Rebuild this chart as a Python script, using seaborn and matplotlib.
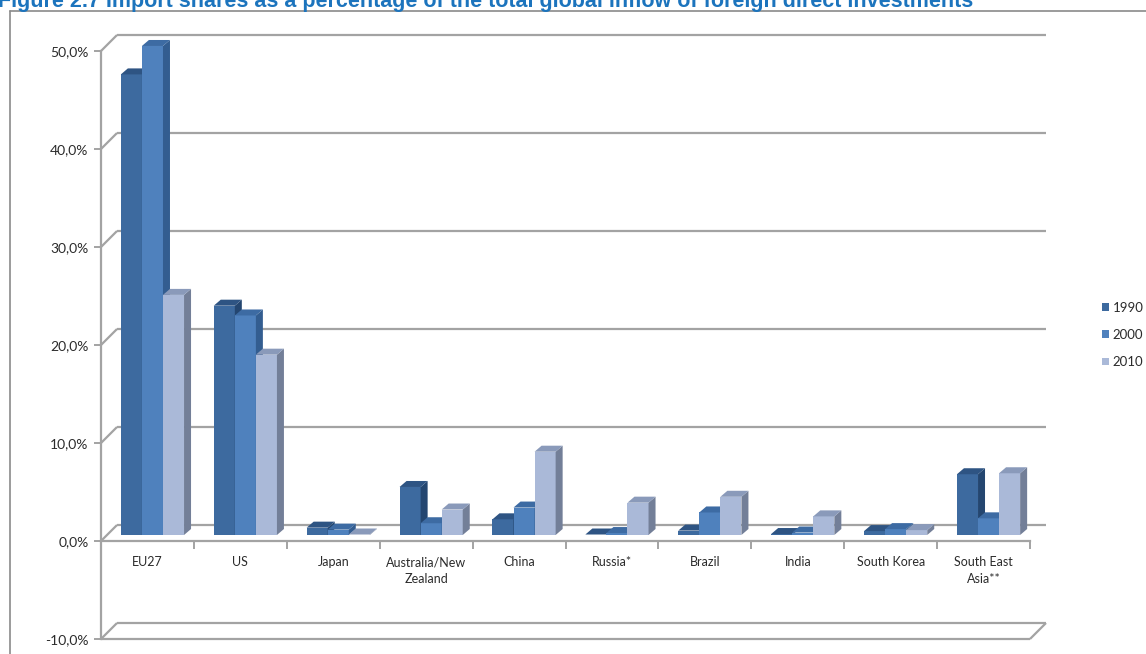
import numpy as np
import pandas as pd
import matplotlib
matplotlib.use("Agg")
import matplotlib.pyplot as plt
from matplotlib.patches import Polygon
from matplotlib.lines import Line2D
import seaborn as sns

# ---- data -------------------------------------------------------------
regions = ["EU27", "US", "Japan", "Australia/New\nZealand", "China", "Russia*",
           "Brazil", "India", "South Korea", "South East\nAsia**"]
years = ["1990", "2000", "2010"]
share_1990 = [47.0, 23.4, 0.75, 4.9, 1.6, 0.05, 0.45, 0.1, 0.4, 6.2]
share_2000 = [49.9, 22.4, 0.55, 1.2, 2.8, 0.2, 2.3, 0.25, 0.6, 1.7]
share_2010 = [24.5, 18.4, 0.05, 2.6, 8.5, 3.3, 3.9, 1.9, 0.5, 6.3]
y_ticks = [-10, 0, 10, 20, 30, 40, 50]
title = ("Figure 2.7 Import shares as a percentage of the total global inflow "
         "of foreign direct investments")

# ---- style ------------------------------------------------------------
front_colors = ["#3d6a9f", "#4f81bd", "#aab9d8"]
top_colors = ["#2e5483", "#3d6ba3", "#8a9aba"]
side_colors = ["#244670", "#335d90", "#737f98"]
grid_color = "#a3a3a3"
text_color = "#2b2b2b"

sns.set_theme(style="white")
plt.rcParams["font.family"] = ["Lato", "DejaVu Sans"]

W, H = 1146, 654
fig = plt.figure(figsize=(W / 100, H / 100), dpi=100)
fig.patch.set_facecolor("white")

# front plane of the 3-D box, in pixels
x_left, x_right = 101, 1030
y_hi, y_lo = 51, 639  # rows of 50 % and -10 %
ax = fig.add_axes([x_left / W, 1 - y_lo / H, (x_right - x_left) / W, (y_lo - y_hi) / H])
ax.set_facecolor("none")

df = pd.DataFrame({
    "region": np.tile(regions, len(years)),
    "year": np.repeat(years, len(regions)),
    "share": share_1990 + share_2000 + share_2010,
})
sns.barplot(data=df, x="region", y="share", hue="year", order=regions,
            hue_order=years, palette=front_colors, saturation=1, width=0.68,
            linewidth=0, errorbar=None, ax=ax)

n = len(regions)
ax.set_xlim(-0.5, n - 0.5)
ax.set_ylim(y_ticks[0], y_ticks[-1])

# pixel -> data unit helpers
px_x = (x_right - x_left) / n
px_y = (y_lo - y_hi) / (y_ticks[-1] - y_ticks[0])
def dxu(p):
    return p / px_x
def dyu(p):
    return p / px_y

# depth geometry (pixels)
plane_dx, plane_dy = 5, 6      # bars stand a little behind the front plane
depth_dx, depth_dy = 7, 6      # thickness of each bar
wall_dx, wall_dy = 16, 16      # back wall offset

# ---- back wall, side wall and floor -------------------------------------
wx, wy = dxu(wall_dx), dyu(wall_dy)
line_kw = dict(color=grid_color, lw=1.6, clip_on=False, solid_capstyle="butt")
for v in y_ticks:
    ax.plot([-0.5 + wx, n - 0.5 + wx], [v + wy, v + wy], zorder=0.5, **line_kw)
    ax.plot([-0.5, -0.5 + wx], [v, v + wy], zorder=0.5, **line_kw)
# floor front edge and right edge
ax.plot([-0.5, n - 0.5], [y_ticks[0], y_ticks[0]], zorder=0.6, **line_kw)
ax.plot([n - 0.5, n - 0.5 + wx], [y_ticks[0], y_ticks[0] + wy], zorder=0.6, **line_kw)

# ---- 3-D bars built on the seaborn bars ---------------------------------
bx, by = dxu(plane_dx), dyu(plane_dy)
ddx, ddy = dxu(depth_dx), dyu(depth_dy)
for k, container in enumerate(ax.containers):
    z = 2 + 0.1 * k
    for patch in container.patches:
        x0 = patch.get_x() + bx
        w = patch.get_width()
        h = patch.get_height()
        patch.set_x(x0)
        patch.set_y(by)
        patch.set_zorder(z)
        patch.set_clip_on(False)
        base, top = by, by + h
        side = Polygon([(x0 + w, base), (x0 + w + ddx, base + ddy),
                        (x0 + w + ddx, top + ddy), (x0 + w, top)],
                       closed=True, facecolor=side_colors[k], edgecolor="none",
                       zorder=z, clip_on=False)
        cap = Polygon([(x0, top), (x0 + ddx, top + ddy),
                       (x0 + w + ddx, top + ddy), (x0 + w, top)],
                      closed=True, facecolor=top_colors[k], edgecolor="none",
                      zorder=z, clip_on=False)
        ax.add_patch(side)
        ax.add_patch(cap)

# ---- axes ----------------------------------------------------------------
for s in ["top", "right"]:
    ax.spines[s].set_visible(False)
ax.spines["left"].set_color(grid_color)
ax.spines["left"].set_linewidth(1.6)
ax.spines["bottom"].set_position(("data", 0))
ax.spines["bottom"].set_color(grid_color)
ax.spines["bottom"].set_linewidth(1.6)
ax.spines["bottom"].set_zorder(3)

ax.set_yticks(y_ticks)
ax.set_yticklabels([f"{v:.1f}%".replace(".", ",") for v in y_ticks])
ax.tick_params(axis="y", left=True, length=5, width=1.4, color=grid_color,
               labelsize=10, labelcolor=text_color, pad=4)

ax.set_xticks(range(n))
ax.set_xticklabels(regions, linespacing=1.45)
ax.set_xticks(np.arange(-0.5, n, 1.0), minor=True)
ax.tick_params(axis="x", which="major", bottom=True, length=0, labelsize=9,
               labelcolor=text_color, pad=11)
ax.tick_params(axis="x", which="minor", bottom=True, length=6, width=1.4,
               color=grid_color, direction="out")
ax.set_xlabel("")
ax.set_ylabel("")
ax.grid(False)

# ---- legend --------------------------------------------------------------
leg = ax.get_legend()
handles = leg.legend_handles
leg.remove()
fig.legend(handles, years, loc="center left",
           bbox_to_anchor=(1102 / W, 1 - 335 / H), frameon=False,
           fontsize=9.5, labelcolor=text_color, handlelength=0.55,
           handleheight=0.55, handletextpad=0.25, labelspacing=1.15,
           borderpad=0, borderaxespad=0)

# ---- title and frame -----------------------------------------------------
fig.text(-0.002, 1 - 6.5 / H, title, ha="left", va="baseline", fontsize=15.5,
         fontweight="bold", color="#1c74bd", family=["Liberation Sans", "DejaVu Sans"])
fig.add_artist(Line2D([9.5 / W, 9.5 / W], [0, 1 - 11 / H],
                      transform=fig.transFigure, color="#8a8a8a", lw=1.2))
fig.add_artist(Line2D([9.5 / W, 1], [1 - 11 / H, 1 - 11 / H],
                      transform=fig.transFigure, color="#8a8a8a", lw=1.2))

fig.savefig("out.png", dpi=100)
